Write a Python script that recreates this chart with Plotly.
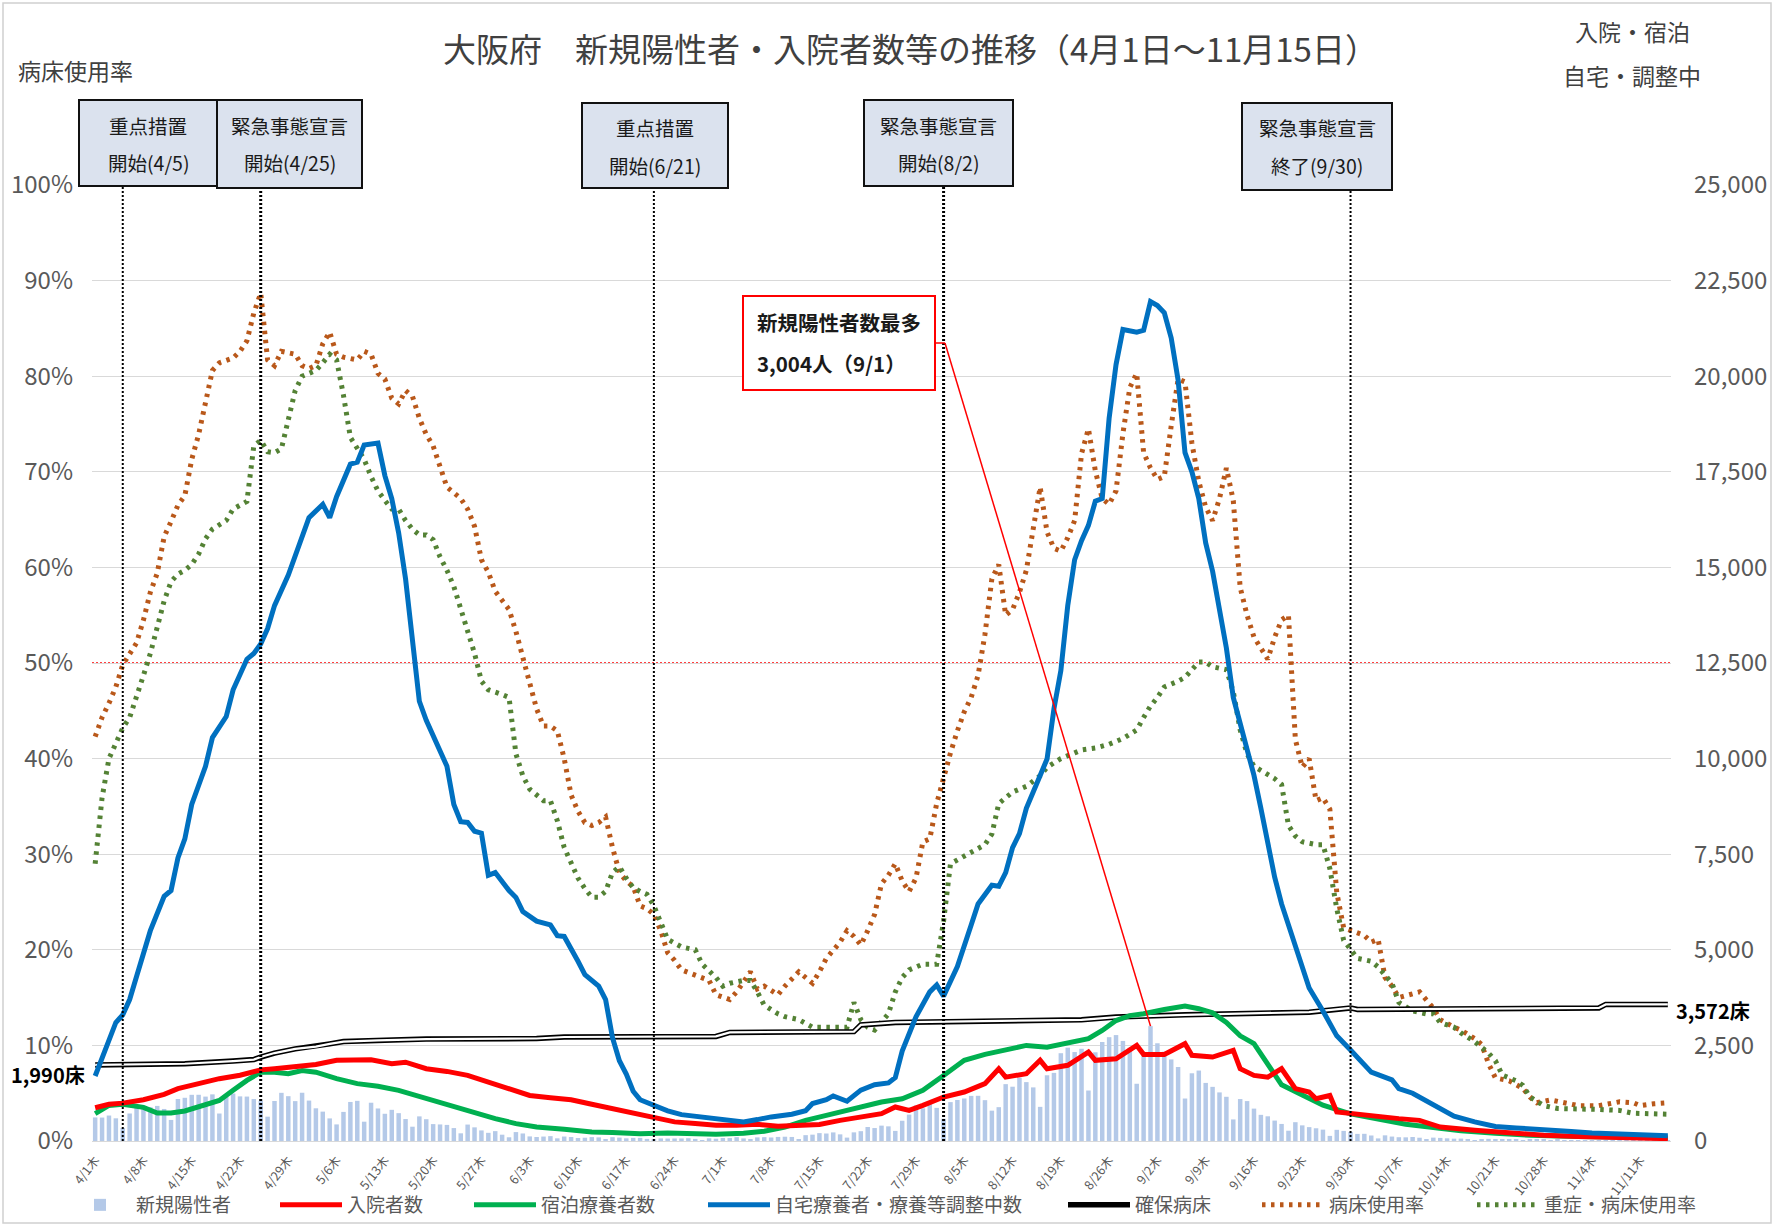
import pandas as pd
import plotly.graph_objects as go

# ---------------- DATA ----------------
START = "2021-04-01"
END = "2021-11-15"

# daily new positives (4/1 .. 11/15)
new_pos = [
    # April
    616, 613, 666, 593, 341, 719, 878, 905, 883, 918, 838, 551, 1099, 1130, 1208, 1209, 1161, 1220, 719, 1153,
    1242, 1167, 1162, 1097, 1050, 636, 1046, 1260, 1172, 1043,
    # May
    1262, 1057, 855, 768, 591, 434, 761, 1021, 1050, 505, 1001, 851, 712, 815, 728, 574, 374, 644, 570, 442,
    433, 421, 338, 201, 430, 357, 277, 214, 258, 165, 97,
    # June
    233, 197, 120, 105, 116, 127, 70, 117, 105, 79, 86, 102, 95, 40, 100, 89, 70, 81, 81, 55,
    30, 68, 64, 66, 67, 73, 55, 24, 70, 59,
    # July
    78, 77, 100, 68, 34, 95, 101, 92, 107, 112, 106, 53, 153, 166, 206, 196, 225, 174, 89, 226,
    257, 367, 339, 402, 383, 264, 530, 690, 932, 855, 1040,
    # August
    866, 581, 1017, 1073, 1112, 1180, 1182, 1068, 794, 885, 1487, 1420, 1654, 1540, 1402, 893, 1719, 1782, 2296, 2441,
    2326, 2412, 1320, 2320, 2589, 2715, 2770, 2617, 2438, 1497, 2322,
    # September
    3004, 2556, 2335, 2133, 1936, 1111, 1771, 1842, 1519, 1416, 1271, 1156, 564, 1097, 1044, 847, 684, 646, 534, 446,
    269, 492, 409, 363, 333, 297, 134, 292, 264, 234,
    # October
    186, 188, 144, 68, 148, 116, 99, 96, 105, 86, 45, 88, 81, 70, 61, 63, 53, 26, 48, 56,
    42, 36, 45, 32, 12, 32, 43, 29, 22, 28, 20,
    # November
    7, 18, 21, 20, 16, 14, 13, 4, 13, 13, 16, 19, 14, 10, 3,
]

# home care / adjusting (blue), right axis — (day offset from 4/1, value)
home_days = [0, 3, 4, 5, 6, 8, 10, 11, 12, 13, 14, 16, 17, 18, 19, 20, 22, 23, 24, 25, 26, 28, 29, 31, 33, 34, 35,
             37, 38, 39, 41, 42, 43, 44, 45, 46, 47, 48, 49, 51, 52, 53, 54, 55, 56, 57, 58, 60, 61, 62, 64, 66,
             67, 68, 70, 71, 73, 74, 75, 76, 77, 78, 79, 81, 83, 85, 88, 90, 92, 94, 96, 98, 101, 103, 104, 106,
             107, 109, 111, 113, 115, 116, 117, 119, 121, 122, 123, 125, 127, 128, 130, 131, 132, 133, 134, 135,
             137, 138, 139, 140, 141, 142, 143, 144, 145, 146, 147, 148, 149, 151, 152, 153, 154, 155, 156, 157,
             158, 159, 160, 161, 162, 164, 165, 166, 168, 169, 171, 172, 174, 176, 178, 180, 182, 184, 185, 188,
             189, 191, 193, 195, 197, 200, 203, 206, 208, 211, 214, 217, 219, 222, 225, 228]
home_vals = [1700, 3100, 3300, 3700, 4300, 5500, 6400, 6550, 7400, 7900, 8800, 9800, 10550, 10800, 11100, 11800,
             12600, 12750, 13000, 13400, 14000, 14800, 15300, 16300, 16650, 16300, 16850, 17700, 17750, 18200,
             18250, 17400, 16800, 15900, 14700, 13100, 11500, 11000, 10600, 9800, 8800, 8350, 8330, 8100, 8050,
             6950, 7020, 6550, 6370, 6000, 5750, 5650, 5370, 5350, 4700, 4350, 4050, 3700, 2700, 2100, 1750,
             1300, 1080, 940, 790, 690, 630, 590, 530, 500, 560, 630, 700, 790, 980, 1080, 1180, 1040, 1330,
             1470, 1520, 1660, 2350, 3250, 3900, 4080, 3790, 4560, 5650, 6200, 6690, 6660, 7020, 7670, 8040,
             8700, 9560, 9990, 11300, 12300, 14000, 15200, 15700, 16100, 16730, 16800, 18900, 20300, 21220,
             21150, 21200, 21950, 21850, 21660, 21000, 19900, 18000, 17500, 16800, 15640, 14900, 12890, 11600,
             10900, 9560, 8700, 6900, 6200, 5100, 4000, 3400, 2750, 2380, 2000, 1800, 1600, 1370, 1250, 1050,
             850, 650, 500, 380, 340, 310, 280, 250, 210, 200, 180, 170, 140]

# hospitalized (red), right axis
hosp_days = [0, 2, 4, 7, 10, 12, 15, 18, 21, 24, 26, 29, 32, 35, 38, 40, 43, 45, 48, 51, 54, 57, 60, 63, 66, 69,
             72, 75, 78, 81, 84, 87, 90, 93, 96, 99, 102, 105, 108, 111, 114, 116, 118, 120, 123, 126, 129, 131,
             132, 135, 137, 138, 141, 144, 145, 148, 151, 152, 155, 158, 159, 162, 165, 166, 168, 170, 172, 174,
             176, 177, 179, 180, 182, 185, 189, 192, 195, 200, 205, 210, 215, 220, 228]
hosp_vals = [870, 960, 990, 1080, 1220, 1370, 1500, 1630, 1720, 1860, 1890, 1960, 2000, 2110, 2125, 2125, 2020,
             2060, 1890, 1820, 1715, 1540, 1370, 1190, 1130, 1080, 960, 845, 715, 630, 500, 455, 410, 410, 435,
             385, 410, 430, 540, 640, 715, 890, 800, 930, 1150, 1280, 1500, 1890, 1670, 1760, 2110, 1890, 1980,
             2325, 2110, 2150, 2500, 2265, 2265, 2545, 2240, 2195, 2370, 1890, 1715, 1670, 1890, 1370, 1280,
             1105, 1190, 760, 715, 670, 585, 540, 365, 280, 210, 150, 120, 90, 60]

# hotel care (green), right axis
hotel_days = [0, 2, 4, 7, 9, 11, 13, 15, 18, 20, 22, 24, 26, 28, 30, 32, 35, 38, 41, 44, 47, 50, 52, 55, 58, 61,
              64, 68, 72, 75, 79, 83, 86, 90, 94, 97, 100, 103, 106, 109, 112, 114, 117, 120, 123, 126, 129, 132,
              135, 138, 141, 144, 146, 148, 150, 152, 155, 158, 160, 162, 164, 166, 168, 170, 172, 175, 178, 182,
              186, 190, 194, 198, 203, 208, 215, 222, 228]
hotel_vals = [715, 930, 960, 880, 730, 730, 785, 890, 1060, 1325, 1585, 1800, 1800, 1760, 1845, 1800, 1630, 1500,
              1430, 1325, 1165, 990, 890, 715, 585, 455, 365, 305, 235, 220, 190, 210, 200, 175, 200, 255, 365,
              540, 670, 800, 905, 1020, 1105, 1325, 1715, 2110, 2265, 2370, 2500, 2455, 2560, 2675, 2890, 3150,
              3280, 3330, 3440, 3530, 3460, 3350, 3100, 2750, 2545, 2010, 1470, 1200, 935, 710, 580, 440, 355,
              265, 200, 150, 120, 100, 85]

# secured beds (black double line), right axis
beds_days = [0, 13, 20, 23, 24, 26, 29, 32, 34, 36, 41, 48, 64, 68, 90, 92, 110, 111, 116, 143, 148, 158, 176,
             182, 183, 218, 219, 228]
beds_vals = [1990, 2020, 2090, 2130, 2195, 2300, 2410, 2470, 2540, 2600, 2630, 2665, 2680, 2720, 2735, 2840,
             2860, 3035, 3100, 3170, 3240, 3300, 3370, 3480, 3440, 3480, 3572, 3572]

# bed usage rate (brown dotted), left axis, %
usage_days = [0, 1, 2, 3, 4, 5, 6, 7, 8, 9, 10, 11, 12, 13, 14, 15, 16, 17, 18, 20, 21, 22, 23, 24, 25, 26, 27,
              29, 30, 31, 32, 33, 34, 35, 36, 38, 39, 40, 41, 42, 43, 44, 45, 46, 47, 48, 49, 50, 51, 52, 53, 54,
              55, 56, 57, 58, 59, 60, 61, 62, 63, 64, 65, 66, 67, 68, 69, 70, 71, 72, 73, 74, 75, 76, 77, 78, 79,
              80, 81, 82, 83, 84, 85, 87, 89, 90, 92, 93, 95, 96, 97, 99, 100, 102, 104, 105, 106, 108, 109, 110,
              111, 112, 113, 114, 115, 116, 117, 118, 119, 120, 121, 122, 123, 124, 125, 126, 127, 128, 129, 130,
              131, 132, 133, 134, 135, 136, 137, 138, 139, 140, 141, 142, 143, 144, 145, 146, 147, 148, 149, 150,
              151, 152, 153, 154, 155, 156, 157, 158, 159, 160, 161, 162, 163, 164, 165, 166, 167, 168, 169, 170,
              171, 172, 173, 174, 175, 176, 177, 178, 179, 180, 181, 182, 184, 185, 186, 187, 188, 189, 192, 194,
              195, 197, 198, 200, 201, 202, 203, 205, 207, 208, 209, 211, 213, 215, 218, 220, 221, 223, 224, 226,
              228]
usage_vals = [42.3, 44.3, 45.8, 47.5, 49.8, 51.0, 52.1, 54.5, 57.4, 59.4, 63.2, 64.8, 66.5, 67.5, 71.3, 73.9,
              77.1, 80.6, 81.4, 81.9, 82.6, 83.7, 86.6, 88.7, 81.7, 81.1, 82.6, 82.3, 81.1, 80.8, 81.1, 83.4,
              84.6, 82.3, 82.0, 81.7, 82.6, 82.3, 80.3, 79.7, 77.7, 77.1, 78.5, 77.9, 75.6, 73.9, 72.7, 70.7,
              68.4, 67.8, 67.2, 66.1, 64.3, 60.8, 59.5, 57.5, 56.5, 55.6, 53.3, 50.5, 47.8, 45.2, 43.4, 43.4,
              42.9, 40.0, 36.2, 34.5, 33.3, 33.0, 33.3, 33.9, 30.7, 28.1, 27.2, 26.6, 24.6, 24.3, 23.7, 22.0,
              19.7, 18.9, 17.9, 17.4, 16.8, 15.3, 14.8, 15.6, 17.7, 15.9, 16.2, 15.3, 16.2, 17.7, 16.5, 17.7,
              19.1, 20.8, 22.0, 21.4, 20.5, 22.0, 23.7, 26.9, 27.8, 29.0, 27.2, 26.1, 27.5, 31.3, 31.6, 35.3,
              38.2, 40.6, 42.9, 44.9, 46.4, 48.7, 53.0, 58.8, 60.3, 55.0, 55.6, 57.4, 59.7, 63.7, 68.4, 63.7,
              62.0, 61.7, 63.1, 64.9, 71.9, 74.5, 70.1, 67.2, 66.6, 68.0, 74.0, 78.8, 80.3, 72.0, 70.4, 69.2,
              69.5, 74.8, 79.7, 79.4, 73.0, 69.0, 66.3, 64.9, 67.2, 70.4, 67.0, 57.9, 55.0, 52.7, 51.5, 50.4,
              52.7, 54.5, 55.0, 42.0, 39.1, 40.0, 35.6, 35.9, 34.7, 26.0, 22.3, 22.0, 21.5, 20.8, 21.1, 17.1,
              16.2, 15.0, 15.6, 13.9, 12.7, 11.9, 11.6, 10.7, 10.1, 8.1, 6.6, 6.3, 5.5, 4.6, 4.0, 4.3, 4.0,
              3.7, 3.7, 4.0, 4.1, 4.0, 3.7, 3.9, 4.0]

# severe bed usage rate (green dotted), left axis, %
severe_days = [0, 1, 2, 3, 4, 5, 6, 7, 8, 9, 10, 11, 12, 13, 14, 15, 16, 17, 18, 19, 20, 22, 23, 24, 25, 26, 27,
               28, 29, 30, 31, 32, 33, 34, 35, 36, 37, 38, 39, 40, 41, 42, 43, 44, 45, 46, 47, 48, 49, 50, 51,
               52, 53, 54, 55, 56, 57, 59, 60, 61, 62, 63, 65, 66, 67, 68, 69, 70, 71, 72, 73, 74, 75, 76, 77,
               78, 79, 80, 81, 82, 83, 85, 87, 88, 90, 91, 92, 94, 95, 96, 97, 99, 100, 102, 104, 109, 110, 111,
               112, 113, 114, 115, 116, 117, 118, 120, 122, 123, 124, 126, 128, 129, 130, 131, 132, 133, 135,
               136, 137, 138, 140, 142, 143, 145, 147, 149, 150, 151, 152, 153, 154, 155, 157, 158, 159, 160,
               161, 162, 164, 165, 166, 167, 168, 169, 171, 172, 173, 174, 175, 177, 178, 179, 180, 181, 183,
               185, 186, 188, 189, 191, 193, 194, 195, 197, 198, 200, 202, 203, 204, 206, 207, 208, 210, 212,
               216, 218, 221, 223, 228]
severe_vals = [29.0, 35.9, 40.0, 41.7, 43.2, 44.3, 46.4, 48.7, 51.0, 53.9, 56.5, 58.5, 59.3, 59.7, 60.3, 61.4,
               63.0, 64.0, 64.5, 64.9, 66.1, 66.9, 72.7, 73.3, 72.1, 72.0, 72.4, 75.5, 78.5, 80.0, 80.3, 80.6,
               81.4, 82.3, 81.7, 78.0, 73.6, 72.4, 71.3, 69.5, 68.0, 67.0, 66.1, 66.1, 64.9, 64.0, 63.4, 63.4,
               62.9, 61.1, 59.7, 58.0, 55.6, 53.3, 51.0, 48.1, 47.2, 46.7, 46.4, 40.5, 38.2, 36.8, 35.6, 35.6,
               33.5, 30.7, 29.2, 27.5, 26.4, 25.5, 25.5, 26.1, 28.1, 28.7, 27.5, 26.5, 26.1, 25.8, 24.6, 22.9,
               21.1, 20.3, 20.0, 18.5, 17.1, 16.2, 16.5, 16.8, 16.8, 15.6, 14.2, 13.3, 13.0, 12.7, 11.9, 11.9,
               14.5, 12.7, 11.9, 11.6, 12.4, 13.3, 15.6, 17.1, 17.9, 18.5, 18.5, 23.0, 29.0, 29.8, 30.6, 31.0,
               32.1, 35.3, 35.9, 36.5, 37.1, 37.7, 38.2, 39.1, 40.0, 40.6, 40.9, 41.1, 41.5, 42.1, 42.6, 43.0,
               44.3, 45.5, 46.4, 47.5, 48.1, 48.5, 49.3, 50.1, 50.1, 49.6, 49.3, 47.0, 43.0, 40.5, 39.2, 38.8,
               37.9, 37.3, 33.0, 31.9, 31.3, 31.0, 31.0, 28.5, 24.3, 21.0, 19.1, 18.8, 18.2, 16.5, 14.5, 13.6,
               13.3, 13.3, 12.4, 11.9, 11.3, 10.4, 9.2, 8.4, 6.9, 6.3, 5.8, 4.6, 3.7, 3.4, 3.4, 3.3, 3.2, 2.9,
               2.8]

# events
event_dates = ["2021-04-05", "2021-04-25", "2021-06-21", "2021-08-02", "2021-09-30"]
event_line1 = ["重点措置", "緊急事態宣言", "重点措置", "緊急事態宣言", "緊急事態宣言"]
event_line2 = ["開始(4/5)", "開始(4/25)", "開始(6/21)", "開始(8/2)", "終了(9/30)"]

peak_date = "2021-09-01"
peak_value = 3004
threshold = 0.5
beds_start_label = "1,990床"
beds_end_label = "3,572床"

tick_dates = ["2021-04-01", "2021-04-08", "2021-04-15", "2021-04-22", "2021-04-29", "2021-05-06", "2021-05-13",
              "2021-05-20", "2021-05-27", "2021-06-03", "2021-06-10", "2021-06-17", "2021-06-24", "2021-07-01",
              "2021-07-08", "2021-07-15", "2021-07-22", "2021-07-29", "2021-08-05", "2021-08-12", "2021-08-19",
              "2021-08-26", "2021-09-02", "2021-09-09", "2021-09-16", "2021-09-23", "2021-09-30", "2021-10-07",
              "2021-10-14", "2021-10-21", "2021-10-28", "2021-11-04", "2021-11-11"]
tick_labels = ["4/1木", "4/8木", "4/15木", "4/22木", "4/29木", "5/6木", "5/13木", "5/20木", "5/27木", "6/3木",
               "6/10木", "6/17木", "6/24木", "7/1木", "7/8木", "7/15木", "7/22木", "7/29木", "8/5木", "8/12木",
               "8/19木", "8/26木", "9/2木", "9/9木", "9/16木", "9/23木", "9/30木", "10/7木", "10/14木",
               "10/21木", "10/28木", "11/4木", "11/11木"]

# ---------------- LAYOUT HELPERS ----------------
W, H = 1790, 1225
ML, MR, MT, MB = 92, 119, 185, 84
PW, PH = W - ML - MR, H - MT - MB


def ax(px):
    return (px - ML) / PW


def ay(py):
    return (H - MB - py) / PH


base = pd.Timestamp(START)


def to_dates(days):
    return [base + pd.Timedelta(days=d) for d in days]


all_dates = pd.date_range(START, END, freq="D")
FONT = "Noto Sans CJK JP"
LEG_IW = 62
DOT = "3.5px,5.5px"

fig = go.Figure()

fig.add_trace(go.Bar(x=all_dates, y=new_pos, name="新規陽性者", marker_color="#b4c9e8",
                     marker_line_width=0, yaxis="y2", legendrank=1, legendwidth=134))
fig.add_trace(go.Scatter(x=to_dates(beds_days), y=beds_vals, name="確保病床", mode="lines",
                         line=dict(color="#000000", width=5.5), yaxis="y2", legendrank=5, legendwidth=117))
fig.add_trace(go.Scatter(x=to_dates(beds_days), y=beds_vals, showlegend=False, mode="lines",
                         line=dict(color="#ffffff", width=2.2), yaxis="y2", hoverinfo="skip"))
fig.add_trace(go.Scatter(x=to_dates(hotel_days), y=hotel_vals, name="宿泊療養者数", mode="lines",
                         line=dict(color="#00b050", width=5), yaxis="y2", legendrank=3, legendwidth=157))
fig.add_trace(go.Scatter(x=to_dates(hosp_days), y=hosp_vals, name="入院者数", mode="lines",
                         line=dict(color="#ff0000", width=5), yaxis="y2", legendrank=2, legendwidth=117))
fig.add_trace(go.Scatter(x=to_dates(home_days), y=home_vals, name="自宅療養者・療養等調整中数", mode="lines",
                         line=dict(color="#0070c0", width=5), yaxis="y2", legendrank=4, legendwidth=283))
fig.add_trace(go.Scatter(x=to_dates(usage_days), y=[v / 100 for v in usage_vals], name="病床使用率",
                         mode="lines", line=dict(color="#b9581a", width=5, dash=DOT), yaxis="y",
                         legendrank=6, legendwidth=138))
fig.add_trace(go.Scatter(x=to_dates(severe_days), y=[v / 100 for v in severe_vals], name="重症・病床使用率",
                         mode="lines", line=dict(color="#548235", width=5, dash=DOT), yaxis="y",
                         legendrank=7, legendwidth=160))

shapes = []
annotations = []

# 50% threshold
shapes.append(dict(type="line", xref="paper", yref="y", x0=0, x1=1, y0=threshold, y1=threshold,
                   line=dict(color="#ff0000", width=1.5, dash="2px,2px"), layer="between"))

# event lines
for i, d in enumerate(event_dates):
    shapes.append(dict(type="line", xref="x", yref="paper", x0=d, x1=d, y0=0, y1=1,
                       line=dict(color="#000000", width=3 if i in (1, 3) else 2, dash="2px,2px"),
                       layer="above"))

# event boxes (pixel geometry)
boxes = [(79, 217, 100, 186), (217, 362, 100, 188), (582, 728, 103, 188), (864, 1013, 100, 186),
         (1242, 1392, 103, 190)]
for (x0, x1, y0, y1), t1, t2 in zip(boxes, event_line1, event_line2):
    shapes.append(dict(type="rect", xref="paper", yref="paper", x0=ax(x0), x1=ax(x1), y0=ay(y1), y1=ay(y0),
                       fillcolor="#dbe2ee", line=dict(color="#111111", width=2), layer="above"))
    cx = (x0 + x1) / 2
    annotations.append(dict(x=ax(cx), y=ay(y0 + 25), xref="paper", yref="paper", text=t1, showarrow=False,
                            xanchor="center", yanchor="middle",
                            font=dict(size=19.5, color="#1a1a1a", family=FONT)))
    annotations.append(dict(x=ax(cx), y=ay(y0 + 62), xref="paper", yref="paper", text=t2, showarrow=False,
                            xanchor="center", yanchor="middle",
                            font=dict(size=19.5, color="#1a1a1a", family=FONT)))

# peak annotation box
shapes.append(dict(type="rect", xref="paper", yref="paper", x0=ax(743), x1=ax(935), y0=ay(390), y1=ay(296),
                   fillcolor="#ffffff", line=dict(color="#ff0000", width=2), layer="above"))
annotations.append(dict(x=ax(755), y=ay(322), xref="paper", yref="paper", xanchor="left", yanchor="middle",
                        text="<b>新規陽性者数最多</b>", showarrow=False,
                        font=dict(size=20.5, color="#1a1a1a", family=FONT)))
annotations.append(dict(x=ax(755), y=ay(363), xref="paper", yref="paper", xanchor="left", yanchor="middle",
                        text="<b>3,004人（9/1）</b>", showarrow=False,
                        font=dict(size=20.5, color="#1a1a1a", family=FONT)))
shapes.append(dict(type="line", xref="paper", yref="paper", x0=ax(935), x1=ax(945), y0=ay(343), y1=ay(343),
                   line=dict(color="#ff0000", width=1.5), layer="above"))
# connector to the peak bar: start point converted from pixel to data space
conn_x = base + pd.Timedelta(days=(945 - ML) / PW * 228.92 - 0.46)
conn_y = (H - MB - 343) / PH * 25000
shapes.append(dict(type="line", xref="x", yref="y2", x0=conn_x, x1=peak_date, y0=conn_y, y1=peak_value,
                   line=dict(color="#ff0000", width=1.5), layer="above"))

# overall frame
shapes.append(dict(type="rect", xref="paper", yref="paper", x0=ax(3), x1=ax(1771), y0=ay(1223), y1=ay(3),
                   line=dict(color="#d0d0d0", width=1.5), layer="above"))

# titles / labels
annotations.append(dict(x=ax(910), y=ay(48), xref="paper", yref="paper", xanchor="center", yanchor="middle",
                        text="大阪府　新規陽性者・入院者数等の推移（4月1日～11月15日）", showarrow=False,
                        font=dict(size=33, color="#404040", family=FONT)))
annotations.append(dict(x=ax(75), y=ay(70), xref="paper", yref="paper", xanchor="center", yanchor="middle",
                        text="病床使用率", showarrow=False,
                        font=dict(size=23, color="#404040", family=FONT)))
annotations.append(dict(x=ax(1632), y=ay(31), xref="paper", yref="paper", xanchor="center", yanchor="middle",
                        text="入院・宿泊", showarrow=False,
                        font=dict(size=23, color="#404040", family=FONT)))
annotations.append(dict(x=ax(1632), y=ay(75), xref="paper", yref="paper", xanchor="center", yanchor="middle",
                        text="自宅・調整中", showarrow=False,
                        font=dict(size=23, color="#404040", family=FONT)))
annotations.append(dict(x=0, y=beds_vals[0], xref="paper", yref="y2", xanchor="right", yanchor="middle",
                        yshift=-10, xshift=-5, text="<b>" + beds_start_label + "</b>", showarrow=False,
                        font=dict(size=20, color="#000000", family=FONT)))
annotations.append(dict(x=to_dates([beds_days[-1]])[0], y=beds_vals[-1], xref="x", yref="y2", xanchor="left",
                        yanchor="middle", yshift=-6, xshift=6, text="<b>" + beds_end_label + "</b>",
                        showarrow=False, font=dict(size=20, color="#000000", family=FONT)))

fig.update_layout(
    width=W, height=H,
    margin=dict(l=ML, r=MR, t=MT, b=MB, autoexpand=False),
    paper_bgcolor="#ffffff", plot_bgcolor="#ffffff",
    font=dict(family=FONT, color="#595959"),
    bargap=0.35,
    showlegend=True,
    legend=dict(orientation="h", x=ax(64), y=ay(1205), xanchor="left", yanchor="middle",
                font=dict(size=19, color="#595959", family=FONT), itemwidth=LEG_IW, traceorder="normal",
                bgcolor="rgba(0,0,0,0)"),
    xaxis=dict(type="date", range=[base - pd.Timedelta(hours=11), pd.Timestamp(END) + pd.Timedelta(hours=11)],
               tickvals=tick_dates, ticktext=tick_labels, tickangle=-52, showgrid=False,
               tickfont=dict(size=12.5, color="#595959", family=FONT), showline=True, linecolor="#d9d9d9",
               ticks="", zeroline=False, ticklabelstandoff=6),
    yaxis=dict(range=[0, 1], dtick=0.1, tickformat=".0%", showgrid=True, gridcolor="#d9d9d9", gridwidth=1,
               zeroline=False, tickfont=dict(size=24, color="#595959", family=FONT), ticklabelstandoff=18,
               fixedrange=True),
    yaxis2=dict(range=[0, 25000], dtick=2500, tickformat=",", overlaying="y", side="right", showgrid=False,
                zeroline=False, tickfont=dict(size=24, color="#595959", family=FONT), ticklabelstandoff=22),
    shapes=shapes,
    annotations=annotations,
)

fig.write_html("out.html", config={"displayModeBar": False},
               post_script="document.body.style.margin='0';")
